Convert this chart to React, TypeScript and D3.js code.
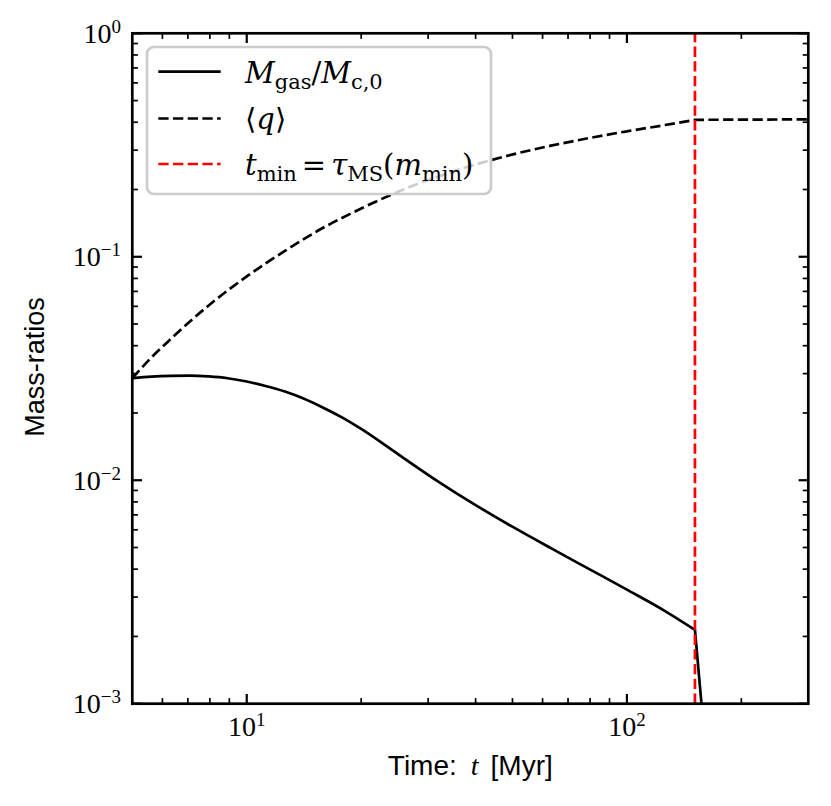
import React from 'react';
import * as d3 from 'd3';

// gas mass fraction M_gas / M_c,0 (smooth part, up to t_min)
const gasTime = [5, 5.62, 6.31, 7.08, 7.94, 8.91, 10, 11.2, 12.6, 14.1, 15.8, 17.8, 20, 25.1, 31.6, 39.8, 50.1, 63.1, 79.4, 100, 126, 151];
const gasRatio = [0.02864, 0.02908, 0.02931, 0.02938, 0.02914, 0.02861, 0.02767, 0.02642, 0.02495, 0.02323, 0.02123, 0.01911, 0.01696, 0.01302, 0.00997, 0.00778, 0.00618, 0.004966, 0.004013, 0.003239, 0.002597, 0.00214];
// collapse after t_min
const gasDropTime = [157.5];
const gasDropRatio = [0.00095];

// mean mass ratio <q>
const qTime = [5, 5.62, 6.31, 7.94, 10, 12.6, 15.8, 20, 25.1, 31.6, 39.8, 50.1, 63.1, 79.4, 100, 126, 151];
const qRatio = [0.02864, 0.03548, 0.04285, 0.06053, 0.08166, 0.1062, 0.1341, 0.1644, 0.1959, 0.2275, 0.2582, 0.2871, 0.3141, 0.3396, 0.3643, 0.3886, 0.41];
const qFlatTime = [300];
const qFlatRatio = [0.412];

const tMin = 151;

const xMajor = [10, 100];
const xMajorExp = ['1', '2'];
const yMajor = [1e-3, 1e-2, 1e-1, 1];
const yMajorExp = ['\u22123', '\u22122', '\u22121', '0'];

const W = 831;
const H = 806;
const left = 132.3;
const right = 808.3;
const top = 33.3;
const bottom = 703.7;

const serif = '"Liberation Serif", "DejaVu Serif", serif';
const mathSerif = '"DejaVu Serif", serif';
const sans = '"Liberation Sans", Arial, sans-serif';
const dash = '10.3 4.4';

const App: React.FC = () => {
  const x = d3.scaleLog().domain([5, 300]).range([left, right]);
  const y = d3.scaleLog().domain([1e-3, 1]).range([bottom, top]);

  const smooth = d3
    .line<[number, number]>()
    .x((d) => x(d[0]))
    .y((d) => y(d[1]))
    .curve(d3.curveMonotoneX);

  const straightTail = (ts: number[], vs: number[]) => ts.map((t, i) => `L${x(t)},${y(vs[i])}`).join('');

  const gasPath =
    (smooth(gasTime.map((t, i) => [t, gasRatio[i]] as [number, number])) || '') + straightTail(gasDropTime, gasDropRatio);
  const qPath =
    (smooth(qTime.map((t, i) => [t, qRatio[i]] as [number, number])) || '') + straightTail(qFlatTime, qFlatRatio);

  // minor ticks
  const xMinor: number[] = [];
  [1, 10, 100].forEach((b) => {
    for (let k = 2; k <= 9; k++) {
      const v = b * k;
      if (v > 5 && v < 300 && v !== 10 && v !== 100) xMinor.push(v);
    }
  });
  const yMinor: number[] = [];
  [1e-3, 1e-2, 1e-1].forEach((b) => {
    for (let k = 2; k <= 9; k++) yMinor.push(b * k);
  });

  const lx0 = 158.3;
  const lx1 = 220.7;
  const rows = [71.7, 118.5, 164];
  const sub = 21;

  return (
    <svg width={W} height={H} style={{ position: 'absolute', left: 0, top: 0, background: '#fff' }}>
      <defs>
        <clipPath id="plot">
          <rect x={left} y={top} width={right - left} height={bottom - top} />
        </clipPath>
      </defs>
      <rect width={W} height={H} fill="#fff" />

      <g clipPath="url(#plot)">
        <path d={gasPath} fill="none" stroke="#000" strokeWidth={2.7} strokeLinejoin="round" />
        <path d={qPath} fill="none" stroke="#000" strokeWidth={2.7} strokeDasharray={dash} />
        <line x1={x(tMin)} x2={x(tMin)} y1={bottom} y2={top} stroke="red" strokeWidth={2.7} strokeDasharray={dash} />
      </g>

      {/* ticks, all pointing inward */}
      <g stroke="#000">
        {xMajor.map((v) => (
          <g key={'xM' + v} strokeWidth={2.2}>
            <line x1={x(v)} x2={x(v)} y1={bottom} y2={bottom - 9.7} />
            <line x1={x(v)} x2={x(v)} y1={top} y2={top + 9.7} />
          </g>
        ))}
        {xMinor.map((v) => (
          <g key={'xm' + v} strokeWidth={1.7}>
            <line x1={x(v)} x2={x(v)} y1={bottom} y2={bottom - 5.6} />
            <line x1={x(v)} x2={x(v)} y1={top} y2={top + 5.6} />
          </g>
        ))}
        {yMajor.map((v) => (
          <g key={'yM' + v} strokeWidth={2.2}>
            <line x1={left} x2={left + 9.7} y1={y(v)} y2={y(v)} />
            <line x1={right} x2={right - 9.7} y1={y(v)} y2={y(v)} />
          </g>
        ))}
        {yMinor.map((v) => (
          <g key={'ym' + v} strokeWidth={1.7}>
            <line x1={left} x2={left + 5.6} y1={y(v)} y2={y(v)} />
            <line x1={right} x2={right - 5.6} y1={y(v)} y2={y(v)} />
          </g>
        ))}
      </g>

      <rect x={left} y={top} width={right - left} height={bottom - top} fill="none" stroke="#000" strokeWidth={2.7} />

      {/* tick labels */}
      <g fontFamily={serif} fontSize={28} fill="#000">
        {xMajor.map((v, i) => (
          <text key={'xl' + v} x={x(v)} y={736} textAnchor="middle">
            10<tspan fontSize={19} dy={-10}>{xMajorExp[i]}</tspan>
          </text>
        ))}
        {yMajor.map((v, i) => (
          <text key={'yl' + v} x={121} y={y(v) + 9.5} textAnchor="end">
            10<tspan fontSize={19} dy={-10}>{yMajorExp[i]}</tspan>
          </text>
        ))}
      </g>

      {/* axis labels */}
      <text x={(left + right) / 2} y={775} textAnchor="middle" fontFamily={sans} fontSize={28} fill="#000">
        Time:<tspan dx={14} fontFamily={serif} fontStyle="italic">t</tspan><tspan dx={12}>[Myr]</tspan>
      </text>
      <text transform="translate(43.5,367) rotate(-90)" textAnchor="middle" fontFamily={sans} fontSize={27} fill="#000">
        Mass-ratios
      </text>

      {/* legend */}
      <rect x={147} y={47} width={344} height={147} rx={7} fill="#fff" fillOpacity={0.8} stroke="#ccc" strokeWidth={2.7} />
      <line x1={lx0} x2={lx1} y1={rows[0]} y2={rows[0]} stroke="#000" strokeWidth={2.7} />
      <line x1={lx0} x2={lx1} y1={rows[1]} y2={rows[1]} stroke="#000" strokeWidth={2.7} strokeDasharray={dash} />
      <line x1={lx0} x2={lx1} y1={rows[2]} y2={rows[2]} stroke="red" strokeWidth={2.7} strokeDasharray={dash} />
      <g fontFamily={mathSerif} fontSize={29} fill="#000">
        <text x={245} y={rows[0] + 11}>
          <tspan fontStyle="italic">M</tspan>
          <tspan fontSize={sub} dy={6}>gas</tspan>
          <tspan dy={-6}>/</tspan>
          <tspan fontStyle="italic">M</tspan>
          <tspan fontSize={sub} dy={6}>c,0</tspan>
        </text>
        <text x={245} y={rows[1] + 10}>
          {'\u27E8'}
          <tspan fontStyle="italic">q</tspan>
          {'\u27E9'}
        </text>
        <text x={245} y={rows[2] + 11}>
          <tspan fontStyle="italic">t</tspan>
          <tspan fontSize={sub} dy={6}>min</tspan>
          <tspan dy={-6} dx={5}>=</tspan>
          <tspan dx={5} fontStyle="italic">{'\u03C4'}</tspan>
          <tspan fontSize={sub} dy={6}>MS</tspan>
          <tspan dy={-6}>(</tspan>
          <tspan fontStyle="italic">m</tspan>
          <tspan fontSize={sub} dy={6}>min</tspan>
          <tspan dy={-6}>)</tspan>
        </text>
      </g>
    </svg>
  );
};

export default App;
